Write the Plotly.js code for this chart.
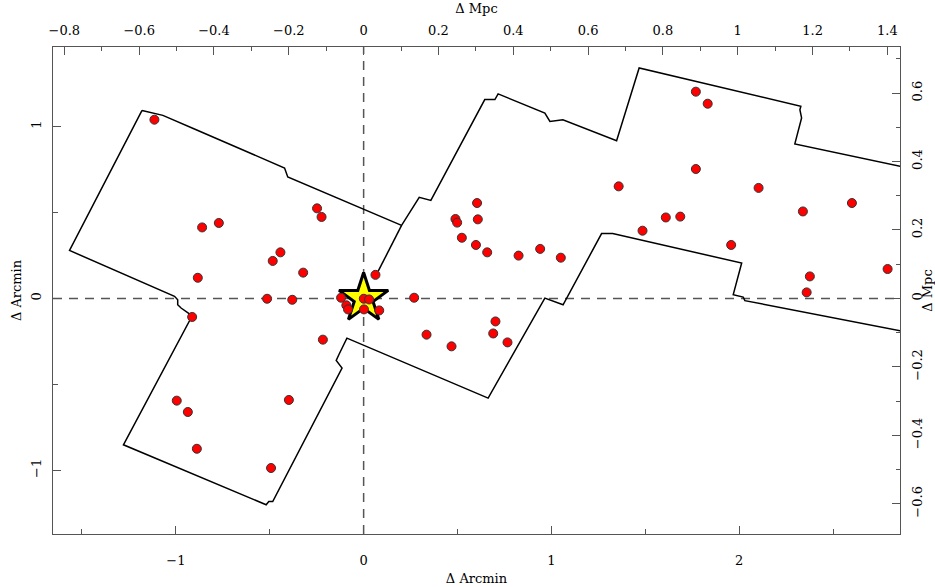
<!DOCTYPE html>
<html>
<head>
<meta charset="utf-8">
<script src="https://cdn.plot.ly/plotly-3.0.1.min.js"></script>
<style>html,body{margin:0;padding:0;background:#fff;}#chart{width:935px;height:587px;}</style>
</head>
<body>
<div id="chart"></div>
<script>
// Offsets of cluster galaxies from the central object (arcmin)
const galaxyDx = [-1.114,-0.860,-0.771,-0.248,-0.224,-0.443,-0.484,-0.883,-0.322,-0.514,-0.380,-0.120,-0.913,-0.217,-0.995,-0.936,-0.398,-0.888,-0.493,
  0.063,0.269,0.335,-0.092,-0.083,0.001,0.029,0.002,0.083,
  0.604,0.489,0.498,0.608,0.523,0.598,0.658,0.825,0.940,1.050,0.468,0.702,0.690,0.766,
  1.358,1.485,1.769,1.832,1.769,2.103,1.609,1.686,1.957,2.339,2.600,2.376,2.359,2.790];
const galaxyDy = [1.040,0.413,0.439,0.524,0.474,0.268,0.218,0.120,0.150,-0.002,-0.008,0.004,-0.108,-0.240,-0.595,-0.661,-0.591,-0.875,-0.987,
  0.137,0.004,-0.211,-0.040,-0.064,-0.002,-0.006,-0.064,-0.070,
  0.555,0.462,0.441,0.460,0.353,0.311,0.268,0.249,0.288,0.237,-0.279,-0.134,-0.204,-0.256,
  0.652,0.394,1.203,1.133,0.753,0.643,0.471,0.476,0.311,0.506,0.555,0.128,0.035,0.171];

// Central object (star)
const starX = [0];
const starY = [0];

// Survey footprint outline (arcmin)
const outlineX = [-1.180,-1.069,-0.901,-0.421,-0.404,0.202,0.296,0.358,0.645,0.699,0.716,0.965,0.992,1.061,1.347,1.467,2.328,2.323,2.332,2.296,3.000,
  3.000,2.030,2.021,1.968,2.013,1.326,1.267,1.062,0.965,0.663,-0.089,-0.132,-0.146,-0.115,-0.484,-0.505,-0.519,-1.279,-0.913,-0.972,-0.990,-0.990,-1.007,-1.566,-1.180];
const outlineY = [1.094,1.065,0.986,0.759,0.707,0.425,0.588,0.570,1.157,1.157,1.190,1.079,1.030,1.040,0.918,1.341,1.118,1.098,1.050,0.899,0.735,
  -0.218,-0.013,0.008,0.022,0.206,0.377,0.377,-0.037,0.002,-0.580,-0.231,-0.328,-0.361,-0.405,-1.182,-1.182,-1.201,-0.852,-0.101,-0.056,-0.037,-0.008,0.012,0.279,1.094];
const edgeX = [0.202,0.113,0.077];
const edgeY = [0.425,0.229,0.157];

const MPC_PER_ARCMIN = 0.502;
const xRange = [-1.654, 2.856];
const yRange = [-1.371, 1.463];

const FONT = 'DejaVu Serif';
const AX = '#555';

const traces = [
  {x: outlineX, y: outlineY, mode: 'lines', line: {color: '#000', width: 1.5}, hoverinfo: 'skip', showlegend: false},
  {x: edgeX, y: edgeY, mode: 'lines', line: {color: '#000', width: 1.5}, hoverinfo: 'skip', showlegend: false},
  {x: starX, y: starY, mode: 'markers', marker: {symbol: 'star', size: 37, color: '#ffff00', line: {color: '#000', width: 3}}, showlegend: false},
  {x: galaxyDx, y: galaxyDy, mode: 'markers', marker: {symbol: 'circle', size: 9, color: '#ff0000', line: {color: '#333', width: 1}}, showlegend: false},
  {x: [null], y: [null], xaxis: 'x2', yaxis: 'y2', mode: 'markers', showlegend: false, hoverinfo: 'skip'}
];

function axisBase(extra) {
  return Object.assign({
    showgrid: false, zeroline: false, showline: true, linecolor: AX, linewidth: 1,
    ticks: 'inside', ticklen: 8, tickwidth: 1, tickcolor: AX,
    tickfont: {family: FONT, size: 13, color: '#000'},
    autorange: false, fixedrange: true
  }, extra);
}

const layout = {
  width: 935, height: 587,
  margin: {l: 53, r: 35, t: 47, b: 53, pad: 0},
  paper_bgcolor: '#fff', plot_bgcolor: '#fff',
  font: {family: FONT, size: 13, color: '#000'},
  showlegend: false,
  xaxis: axisBase({
    range: xRange, tick0: 0, dtick: 1, side: 'bottom',
    minor: {dtick: 0.5, ticks: 'inside', ticklen: 5, tickcolor: AX},
    ticklabelstandoff: 14,
    title: {text: 'Δ Arcmin', font: {family: FONT, size: 13}, standoff: 7}
  }),
  xaxis2: axisBase({
    range: [xRange[0] * MPC_PER_ARCMIN, xRange[1] * MPC_PER_ARCMIN], overlaying: 'x', side: 'top', anchor: 'y',
    tick0: 0, dtick: 0.2,
    minor: {dtick: 0.1, ticks: 'inside', ticklen: 4, tickcolor: AX},
    ticklabelstandoff: 6,
    title: {text: 'Δ Mpc', font: {family: FONT, size: 13}, standoff: 6}
  }),
  yaxis: axisBase({
    range: yRange, tick0: 0, dtick: 1, tickangle: -90,
    minor: {dtick: 0.5, ticks: 'inside', ticklen: 5, tickcolor: AX},
    ticklabelstandoff: 6,
    title: {text: 'Δ Arcmin', font: {family: FONT, size: 13}, standoff: 4}
  }),
  yaxis2: axisBase({
    range: [yRange[0] * MPC_PER_ARCMIN, yRange[1] * MPC_PER_ARCMIN], overlaying: 'y', side: 'right', anchor: 'x',
    tick0: 0, dtick: 0.2, tickangle: -90,
    minor: {dtick: 0.1, ticks: 'inside', ticklen: 4, tickcolor: AX},
    ticklabelstandoff: 5,
    title: {text: 'Δ Mpc', font: {family: FONT, size: 13}, standoff: 0}
  }),
  shapes: [
    {type: 'line', xref: 'x', yref: 'y', x0: 0, x1: 0, y0: yRange[0], y1: yRange[1], layer: 'below',
     line: {color: AX, width: 1.5, dash: '9px,7px'}},
    {type: 'line', xref: 'x', yref: 'y', x0: xRange[0], x1: xRange[1], y0: 0, y1: 0, layer: 'below',
     line: {color: AX, width: 1.5, dash: '9px,7px'}}
  ]
};

Plotly.newPlot('chart', traces, layout, {displayModeBar: false, staticPlot: true});
</script>
</body>
</html>
